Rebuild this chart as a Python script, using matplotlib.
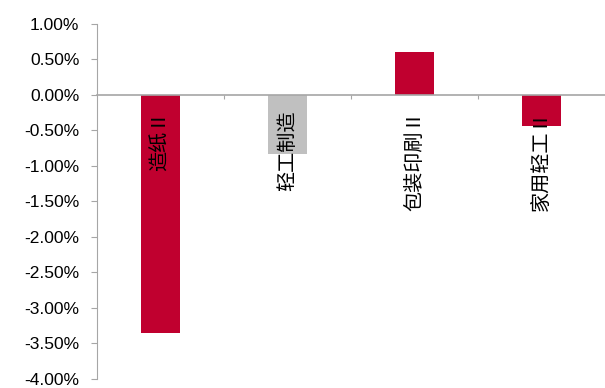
import matplotlib
matplotlib.use("Agg")
import matplotlib.pyplot as plt
from matplotlib.ticker import FuncFormatter

categories = ["造纸Ⅱ", "轻工制造", "包装印刷Ⅱ", "家用轻工Ⅱ"]
values = [-3.35, -0.83, 0.61, -0.43]
colors = ["#C0002F", "#C0C0C0", "#C0002F", "#C0002F"]
yticks = [1.0, 0.5, 0.0, -0.5, -1.0, -1.5, -2.0, -2.5, -3.0, -3.5, -4.0]

fig = plt.figure(figsize=(6.05, 3.88), dpi=100)
ax = fig.add_axes([0.160, 0.0232, 0.84, 0.915])

x = [i + 0.5 for i in range(len(categories))]
ax.bar(x, values, width=0.31, color=colors, zorder=2)

ax.set_xlim(0, 4)
ax.set_ylim(-4.0, 1.0)
ax.set_yticks(yticks)
ax.yaxis.set_major_formatter(FuncFormatter(lambda v, p: f"{v:.2f}%"))
for lbl in ax.get_yticklabels():
    lbl.set_fontfamily(["Liberation Sans", "DejaVu Sans"])
    lbl.set_fontsize(12.5)

grey = "#A6A6A6"
for s in ["top", "right"]:
    ax.spines[s].set_visible(False)
ax.spines["left"].set_color(grey)
ax.spines["bottom"].set_color(grey)
ax.spines["bottom"].set_position(("data", 0))
ax.spines["bottom"].set_linewidth(1.2)
ax.set_xticks([1, 2, 3])
ax.set_xticklabels([])
ax.tick_params(axis="x", direction="out", length=3, color=grey)
ax.tick_params(axis="y", direction="out", length=4.5, color=grey, pad=8)

for xi, cat in zip(x, categories):
    ax.annotate(cat, xy=(xi, 0), xytext=(0, -11), textcoords="offset points",
                rotation=90, ha="center", va="top", fontsize=14.5,
                family=["Noto Sans CJK SC", "DejaVu Sans"], zorder=3)

fig.savefig("out.png", dpi=100)
